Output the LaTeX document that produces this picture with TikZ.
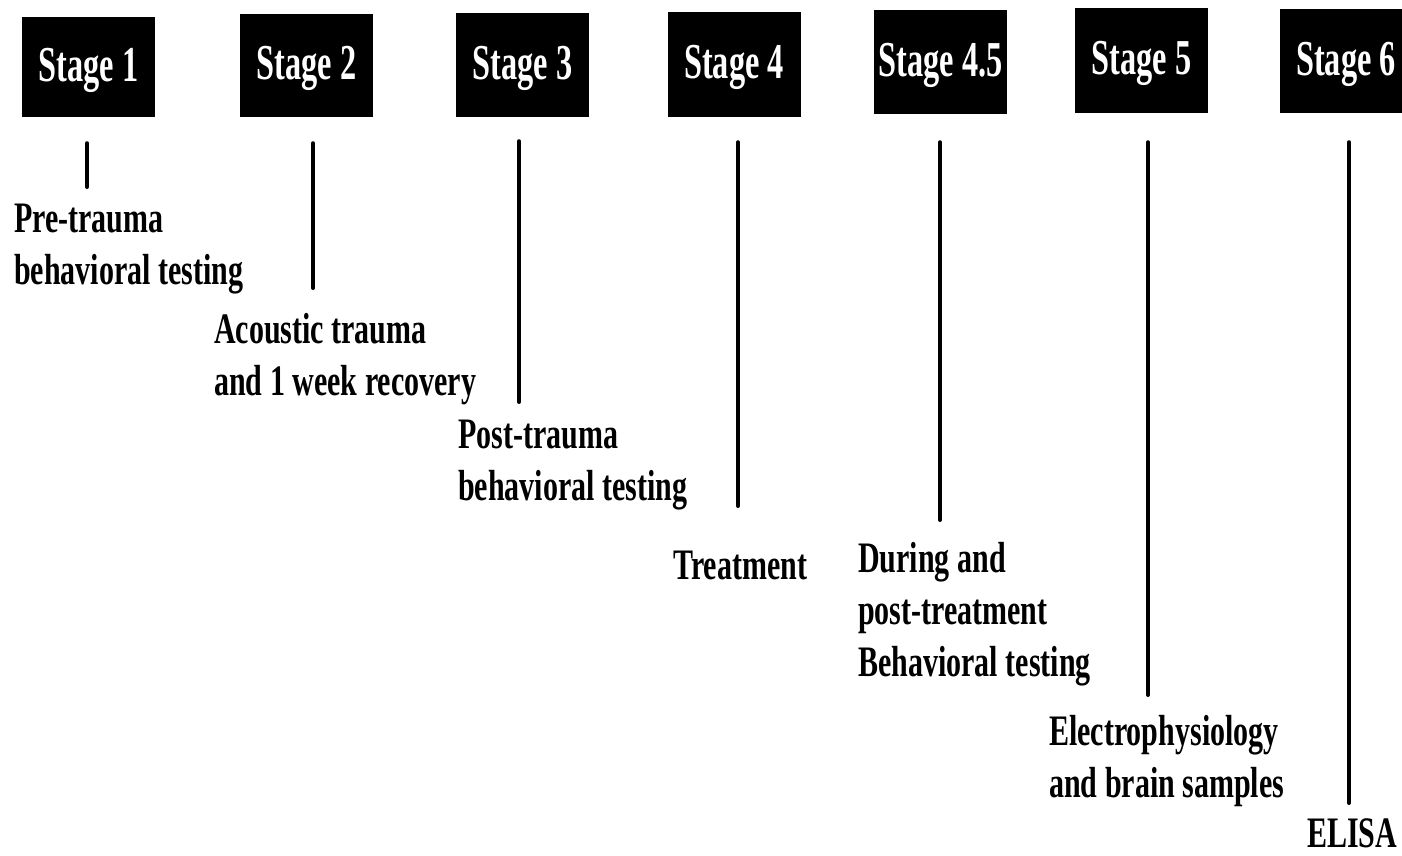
\documentclass[tikz,border=0pt]{standalone}
\usepackage{fontspec}
\setmainfont{Liberation Serif}
\usepackage{graphicx}
\tikzset{
  stagebox/.style={fill=black, draw=none, minimum width=133pt, minimum height=#1, inner sep=0pt, text=white},
  stagebox/.default=104pt,
  tl/.style={line width=4pt, line cap=round},
  lbl/.style={anchor=base west, inner sep=0pt, text=black}
}
\newcommand{\stg}[1]{\raisebox{-3pt}[\height][\depth]{\scalebox{1.01}[1.57]{\fontsize{32}{38}\selectfont\bfseries #1}}}
\newcommand{\lab}[1]{\scalebox{1}[1.45]{\fontsize{30}{35.9}\selectfont\bfseries\begin{tabular}[t]{@{}l@{}}#1\end{tabular}}}
\begin{document}
\begin{tikzpicture}[x=1pt,y=-1pt]
\clip (0,0) rectangle (1402,855);
\fill[white] (0,0) rectangle (1402,855);
% stage boxes
\node[stagebox=100pt] (s1) at (88.5,67) {\stg{Stage 1}};
\node[stagebox=103pt] (s2) at (306.5,65.5) {\stg{Stage 2}};
\node[stagebox] (s3) at (522.5,65) {\stg{Stage 3}};
\node[stagebox=105pt] (s4) at (734,64.5) {\stg{Stage 4}};
\node[stagebox] (s45) at (940.5,62) {\stg{Stage 4.5}};
\node[stagebox=105pt] (s5) at (1141.5,60.5) {\stg{Stage 5}};
\node[stagebox] (s6) at (1346,61) {\stg{Stage 6}};
% labels
\node[lbl] (l1) at (14,232) {\lab{Pre-trauma\\behavioral testing}};
\node[lbl] (l2) at (214,343) {\lab{Acoustic trauma\\and 1 week recovery}};
\node[lbl] (l3) at (458,448) {\lab{Post-trauma\\behavioral testing}};
\node[lbl] (l4) at (673,579) {\lab{Treatment}};
\node[lbl] (l45) at (858,572) {\lab{During and\\post-treatment\\Behavioral testing}};
\node[lbl] (l5) at (1049,745) {\lab{Electrophysiology\\and brain samples}};
\node[lbl] (l6) at (1307,847) {\lab{ELISA}};
% line ends
\coordinate (b1) at (87,187);
\coordinate (b2) at (313,288);
\coordinate (b3) at (519,402);
\coordinate (b4) at (738,506);
\coordinate (b45) at (940,520);
\coordinate (b5) at (1148,695);
\coordinate (b6) at (1349,803);
\draw[tl] ([yshift=-26pt]s1.south -| b1) -- (b1);
\draw[tl] ([yshift=-26pt]s2.south -| b2) -- (b2);
\draw[tl] ([yshift=-24pt]s3.south -| b3) -- (b3);
\draw[tl] ([yshift=-25pt]s4.south -| b4) -- (b4);
\draw[tl] ([yshift=-28pt]s45.south -| b45) -- (b45);
\draw[tl] ([yshift=-29pt]s5.south -| b5) -- (b5);
\draw[tl] ([yshift=-29pt]s6.south -| b6) -- (b6);
\end{tikzpicture}
\end{document}
